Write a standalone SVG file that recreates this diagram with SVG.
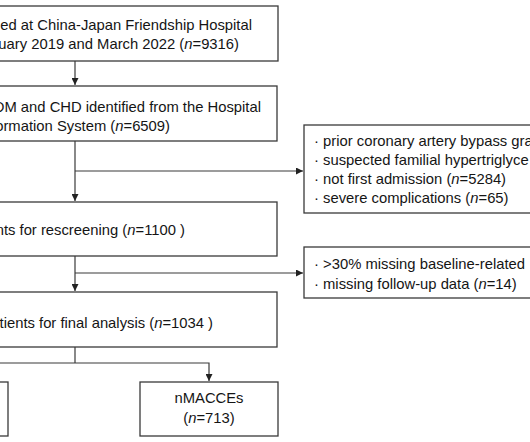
<svg xmlns="http://www.w3.org/2000/svg" width="530" height="442" viewBox="0 0 530 442">
<defs>
<marker id="ah" viewBox="0 0 10 10" refX="10" refY="5" markerWidth="7" markerHeight="7" markerUnits="userSpaceOnUse" orient="auto">
<path d="M0,0 L10,5 L0,10 z" fill="#222"/>
</marker>
<style>
.box{fill:#fff;stroke:#3a3a3a;stroke-width:1.3}
.ln{fill:none;stroke:#3a3a3a;stroke-width:1.2}
text{font-family:"Liberation Sans",Arial,sans-serif;font-size:14.8px;fill:#151515}
.e{text-anchor:end}
.m{text-anchor:middle}
</style>
</defs>
<rect width="530" height="442" fill="#fff"/>
<g id="connectors">
<path class="ln" d="M75,61 V85" marker-end="url(#ah)"/>
<path class="ln" d="M75,141 V201" marker-end="url(#ah)"/>
<path class="ln" d="M75,171 H303" marker-end="url(#ah)"/>
<path class="ln" d="M75,256 V291" marker-end="url(#ah)"/>
<path class="ln" d="M75,273 H303" marker-end="url(#ah)"/>
<path class="ln" d="M75,347 V363"/>
<path class="ln" d="M-10,363 H209 V381" marker-end="url(#ah)"/>
</g>
<g id="n1">
<rect class="box" x="-20" y="6" width="298" height="55"/>
<text class="e" x="252" y="30">ed at China-Japan Friendship Hospital</text>
<text class="e" x="239" y="49">uary 2019 and March 2022 (<tspan font-style="italic">n</tspan>=9316)</text>
</g>
<g id="n2">
<rect class="box" x="-20" y="86" width="297" height="55"/>
<text class="e" x="261" y="112">DM and CHD identified from the Hospital</text>
<text class="e" x="170" y="131">ormation System (<tspan font-style="italic">n</tspan>=6509)</text>
</g>
<g id="ex1">
<rect class="box" x="304" y="125" width="240" height="88"/>
<text x="314" y="146">· prior coronary artery bypass gra</text>
<text x="314" y="165">· suspected familial hypertriglyce</text>
<text x="314" y="184">· not first admission (<tspan font-style="italic">n</tspan>=5284)</text>
<text x="314" y="203">· severe complications (<tspan font-style="italic">n</tspan>=65)</text>
</g>
<g id="n3">
<rect class="box" x="-20" y="202" width="297" height="54"/>
<text class="e" x="185" y="235">nts for rescreening (<tspan font-style="italic">n</tspan>=1100 )</text>
</g>
<g id="ex2">
<rect class="box" x="304" y="247" width="240" height="51"/>
<text x="314" y="269">· &gt;30% missing baseline-related</text>
<text x="314" y="289">· missing follow-up data (<tspan font-style="italic">n</tspan>=14)</text>
</g>
<g id="n4">
<rect class="box" x="-20" y="292" width="297" height="55"/>
<text class="e" x="213" y="328">tients for final analysis (<tspan font-style="italic">n</tspan>=1034 )</text>
</g>
<g id="n5">
<rect class="box" x="-60" y="382" width="68" height="54"/>
</g>
<g id="n6">
<rect class="box" x="140" y="382" width="138" height="54"/>
<text class="m" x="209" y="403">nMACCEs</text>
<text class="m" x="209" y="423">(<tspan font-style="italic">n</tspan>=713)</text>
</g>
</svg>
